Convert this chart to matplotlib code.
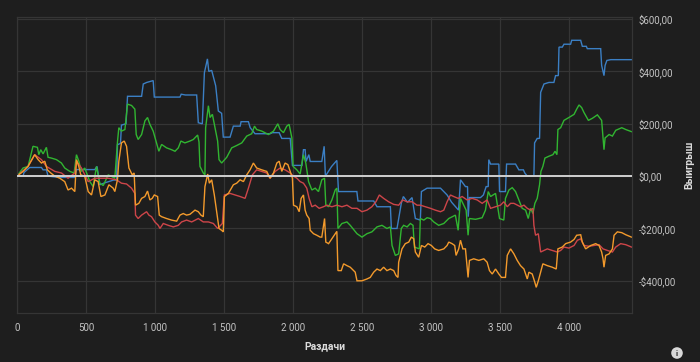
import numpy as np
import matplotlib
matplotlib.use("Agg")
import matplotlib.pyplot as plt
from matplotlib.ticker import FuncFormatter

# Кривые выигрыша: (раздача, $)
blue_pts = [(0, 0), (44, 0), (51, 14), (92, 33), (177, 33), (189, 24), (213, 24), (225, 0), (300, -5), (419, -5),
            (431, 25), (564, 25), (580, 37), (600, -33), (640, -25), (700, -15), (722, -15), (728, 120), (750, 125),
            (757, 195), (790, 200), (801, 305), (903, 305), (915, 352), (940, 358), (987, 365), (995, 302), (1181, 302),
            (1190, 313), (1220, 310), (1302, 310), (1314, 204), (1343, 200), (1358, 395), (1380, 448), (1390, 400),
            (1411, 404), (1423, 380), (1440, 345), (1459, 249), (1483, 240), (1495, 149), (1544, 149), (1568, 191),
            (1617, 191), (1624, 208), (1677, 208), (1690, 185), (1725, 162), (1834, 162), (1850, 166), (1900, 166),
            (1919, 144), (1980, 144), (1996, 41), (2065, 41), (2076, 101), (2088, 101), (2095, 56), (2115, 82),
            (2125, 56), (2209, 56), (2226, 114), (2235, 0), (2280, 37), (2318, 60), (2330, -59), (2463, -59),
            (2471, -95), (2585, -95), (2609, -117), (2706, -117), (2713, -200), (2754, -200), (2785, -104),
            (2800, -78), (2830, -100), (2863, -82), (2887, -162), (2923, -168), (2931, -59), (2972, -46), (3069, -46),
            (3117, -72), (3150, -100), (3200, -130), (3214, -14), (3250, -40), (3265, -40), (3270, -155), (3279, -82),
            (3359, -82), (3380, -72), (3400, -40), (3415, -40), (3419, 63), (3432, 46), (3492, 46), (3497, -59),
            (3540, -59), (3548, 46), (3613, 46), (3637, 24), (3670, 24), (3680, 12), (3698, 0), (3746, 0), (3751, 127),
            (3770, 144), (3787, 144), (3795, 320), (3819, 352), (3855, 358), (3891, 358), (3903, 384), (3923, 384),
            (3928, 493), (3952, 493), (3964, 504), (4012, 504), (4020, 519), (4085, 519), (4097, 496), (4126, 496),
            (4133, 487), (4230, 487), (4237, 423), (4254, 384), (4262, 423), (4275, 442), (4303, 445), (4453, 445)]

green_pts = [(0, 0), (44, 31), (80, 37), (116, 114), (148, 110), (158, 82), (172, 101), (189, 85), (213, 110), (225, 72),
             (249, 69), (286, 63), (322, 50), (346, 31), (383, 18), (414, 12), (431, 82), (448, 57), (467, 18), (491, 31),
             (528, -21), (552, -40), (576, 37), (600, -27), (625, -36), (661, 5), (697, -5), (709, -8), (728, 130),
             (738, 185), (757, 172), (782, 178), (801, 275), (830, 270), (854, 256), (864, 159), (878, 140), (903, 159),
             (927, 211), (946, 224), (963, 198), (987, 172), (1011, 127), (1028, 95), (1048, 121), (1084, 108),
             (1120, 101), (1145, 95), (1169, 108), (1188, 134), (1217, 127), (1253, 134), (1278, 140), (1309, 157),
             (1319, 130), (1326, 37), (1350, 12), (1362, 5), (1367, 185), (1387, 269), (1399, 224), (1416, 236),
             (1435, 185), (1454, 134), (1464, 63), (1483, 50), (1520, 72), (1556, 108), (1592, 117), (1629, 127),
             (1665, 153), (1701, 162), (1721, 191), (1737, 178), (1774, 172), (1822, 159), (1859, 172), (1890, 200),
             (1907, 178), (1931, 166), (1955, 191), (1972, 198), (1992, 146), (2001, 37), (2028, 24), (2052, 8),
             (2076, 82), (2093, 50), (2113, -21), (2137, -53), (2161, -46), (2185, -59), (2209, -14), (2229, -8),
             (2238, -111), (2258, -117), (2282, -91), (2306, -53), (2318, -46), (2326, -200), (2355, -181),
             (2391, -175), (2415, -188), (2464, -220), (2500, -233), (2536, -220), (2572, -213), (2609, -194),
             (2645, -188), (2681, -200), (2706, -194), (2718, -265), (2742, -303), (2766, -297), (2785, -200),
             (2802, -188), (2827, -194), (2851, -181), (2870, -188), (2880, -271), (2916, -278), (2923, -162),
             (2948, -168), (2972, -159), (2996, -162), (3020, -175), (3056, -188), (3093, -181), (3129, -162),
             (3177, -149), (3197, -207), (3214, -85), (3238, -111), (3255, -130), (3269, -226), (3279, -162),
             (3323, -165), (3371, -159), (3395, -130), (3415, -59), (3432, -78), (3468, -66), (3497, -162),
             (3528, -168), (3540, -85), (3565, -53), (3589, -44), (3613, -59), (3637, -91), (3661, -123), (3686, -130),
             (3705, -162), (3722, -123), (3739, -143), (3753, -104), (3770, -85), (3787, -33), (3797, 18), (3811, 37),
             (3826, 69), (3855, 76), (3884, 82), (3899, 95), (3913, 82), (3920, 178), (3940, 185), (3964, 213),
             (4000, 224), (4037, 236), (4056, 256), (4073, 272), (4092, 262), (4109, 243), (4141, 213), (4170, 221),
             (4206, 234), (4237, 213), (4247, 144), (4254, 101), (4262, 146), (4291, 159), (4315, 153), (4339, 175),
             (4383, 185), (4412, 178), (4453, 170)]

orange_pts = [(0, 0), (44, 18), (80, 37), (128, 82), (153, 63), (177, 50), (201, 57), (220, 24), (245, 12), (274, 0),
              (310, -8), (346, -21), (370, -53), (395, -46), (419, -59), (431, 63), (448, 37), (462, 5), (491, -1),
              (516, -59), (540, -72), (564, -14), (588, -21), (608, -78), (637, -72), (666, -33), (697, -46),
              (709, -59), (728, -14), (738, 57), (757, 127), (777, 134), (794, 114), (811, 31), (835, 5), (849, 12),
              (859, -111), (883, -104), (903, -85), (927, -78), (946, -57), (963, -91), (980, -85), (995, -72),
              (1019, -78), (1031, -149), (1048, -155), (1084, -162), (1120, -168), (1157, -172), (1181, -149),
              (1205, -143), (1229, -149), (1253, -146), (1290, -130), (1314, -136), (1333, -149), (1350, -155),
              (1362, -40), (1382, 8), (1394, -27), (1411, -14), (1430, -72), (1447, -136), (1464, -200), (1483, -207),
              (1495, -213), (1503, -78), (1532, -66), (1568, -33), (1592, -27), (1617, -14), (1641, -21), (1665, 5),
              (1689, 24), (1713, 50), (1737, 31), (1774, 24), (1810, 18), (1834, -8), (1859, 12), (1883, 50),
              (1900, 57), (1919, 18), (1943, 50), (1963, 44), (1980, 18), (1996, -8), (2004, -111), (2028, -117),
              (2045, -136), (2059, -85), (2076, -72), (2088, -130), (2100, -149), (2117, -162), (2125, -207),
              (2149, -220), (2173, -226), (2197, -233), (2209, -233), (2229, -162), (2238, -252), (2258, -258),
              (2282, -239), (2306, -220), (2318, -211), (2326, -361), (2350, -361), (2367, -335), (2391, -342),
              (2415, -348), (2451, -367), (2464, -400), (2500, -400), (2536, -393), (2560, -387), (2585, -367),
              (2609, -355), (2633, -361), (2657, -348), (2681, -361), (2706, -355), (2730, -361), (2747, -380),
              (2761, -387), (2766, -329), (2790, -278), (2814, -258), (2839, -252), (2858, -233), (2875, -239),
              (2887, -290), (2911, -310), (2931, -265), (2955, -271), (2979, -258), (3003, -265), (3027, -278),
              (3056, -284), (3093, -278), (3117, -265), (3129, -252), (3153, -258), (3172, -265), (3182, -303),
              (3201, -278), (3214, -245), (3231, -278), (3250, -278), (3269, -387), (3279, -322), (3310, -316),
              (3347, -322), (3383, -316), (3407, -329), (3424, -361), (3444, -374), (3468, -355), (3492, -374),
              (3511, -387), (3540, -387), (3553, -303), (3577, -278), (3601, -297), (3625, -322), (3649, -342),
              (3674, -355), (3698, -393), (3710, -367), (3734, -374), (3753, -406), (3763, -425), (3778, -400),
              (3795, -367), (3811, -335), (3843, -342), (3879, -348), (3908, -355), (3920, -278), (3952, -271),
              (3976, -258), (4012, -252), (4037, -242), (4056, -226), (4085, -224), (4097, -252), (4121, -278),
              (4158, -265), (4194, -258), (4218, -265), (4237, -290), (4247, -316), (4254, -348), (4266, -303),
              (4291, -297), (4315, -278), (4327, -226), (4351, -213), (4383, -216), (4412, -224), (4453, -233)]

red_pts = [(0, 0), (80, 37), (128, 82), (177, 63), (213, 37), (274, 18), (322, 12), (370, -8), (419, 12), (431, 57),
           (467, 31), (516, -21), (564, -8), (612, -8), (661, -8), (721, -14), (757, -27), (794, -30), (830, -46),
           (854, -66), (859, -149), (878, -162), (903, -149), (939, -136), (956, -149), (975, -155), (999, -175),
           (1024, -188), (1036, -200), (1060, -181), (1096, -188), (1133, -194), (1169, -188), (1193, -175),
           (1229, -168), (1266, -175), (1314, -162), (1350, -175), (1387, -175), (1423, -181), (1454, -200),
           (1488, -181), (1503, -72), (1544, -66), (1580, -72), (1617, -78), (1653, -85), (1677, -46), (1706, 5),
           (1737, 24), (1774, 18), (1810, 12), (1834, -8), (1871, 18), (1907, 31), (1943, 24), (1980, 12), (2004, 0),
           (2028, -8), (2052, -21), (2076, -27), (2100, -46), (2117, -85), (2137, -117), (2161, -111), (2190, -123),
           (2221, -117), (2246, -111), (2282, -117), (2318, -111), (2355, -117), (2391, -111), (2427, -123),
           (2464, -123), (2500, -136), (2536, -130), (2572, -117), (2601, -98), (2626, -72), (2657, -85), (2693, -98),
           (2730, -108), (2766, -111), (2795, -91), (2827, -98), (2863, -98), (2899, -111), (2923, -111),
           (2960, -117), (2996, -123), (3032, -130), (3069, -136), (3093, -130), (3117, -98), (3141, -72),
           (3165, -78), (3197, -85), (3226, -78), (3262, -91), (3298, -85), (3335, -91), (3371, -104), (3407, -91),
           (3432, -123), (3468, -117), (3504, -111), (3528, -98), (3553, -117), (3577, -104), (3601, -104),
           (3649, -117), (3674, -111), (3698, -123), (3722, -130), (3739, -123), (3746, -188), (3758, -226),
           (3778, -220), (3795, -290), (3819, -284), (3843, -278), (3879, -284), (3915, -290), (3940, -284),
           (3964, -271), (4000, -275), (4037, -265), (4061, -245), (4085, -240), (4109, -265), (4146, -268),
           (4182, -265), (4218, -262), (4247, -278), (4279, -284), (4315, -290), (4339, -271), (4375, -258),
           (4412, -262), (4453, -271)]

x_ticks = [0, 500, 1000, 1500, 2000, 2500, 3000, 3500, 4000]
y_ticks = [-400, -200, 0, 200, 400, 600]

bg = "#1e1e1e"
grid_c = "#353535"
txt_c = "#c4c4c4"

plt.rcParams["font.family"] = ["Roboto", "DejaVu Sans"]

fig = plt.figure(figsize=(7, 3.62), dpi=100, facecolor=bg)
ax = fig.add_axes([17 / 700, 1 - 313 / 362, 615 / 700, 296 / 362], facecolor=bg)

series = [(blue_pts, "#3b7fc4"), (green_pts, "#31b531"), (red_pts, "#cd4549"), (orange_pts, "#f39a2c")]
for pts, col in series:
    arr = np.array(pts)
    ax.plot(arr[:, 0], arr[:, 1], color=col, lw=1.0, solid_joinstyle="miter")

ax.axhline(0, color="#d0d0d0", lw=1.4, zorder=5)

ax.set_xlim(0, 4457)
ax.set_ylim(-523, 608)
ax.set_xticks(x_ticks)
ax.set_yticks(y_ticks)
ax.xaxis.set_major_formatter(FuncFormatter(lambda v, p: f"{int(v):,}".replace(",", " ")))


def money(v, p):
    s = f"${abs(v):,.2f}".replace(",", " ").replace(".", ",").replace(" ", "")
    return ("-" if v < 0 else "") + s


ax.yaxis.set_major_formatter(FuncFormatter(money))
ax.yaxis.tick_right()
ax.yaxis.set_label_position("right")
ax.tick_params(axis="both", length=0, colors=txt_c, labelsize=7)
ax.tick_params(axis="x", pad=7)
ax.tick_params(axis="y", pad=5)
ax.grid(True, color=grid_c, lw=0.9)
for sp in ax.spines.values():
    sp.set_color(grid_c)
    sp.set_linewidth(0.9)

ax.set_xlabel("Раздачи", color="#dcdcdc", fontsize=7.5, fontweight="bold", labelpad=6)
ax.set_ylabel("Выигрыш", color="#dcdcdc", fontsize=7.5, fontweight="bold", labelpad=6)

fig.text(677 / 700, 1 - 353 / 362, "i", ha="center", va="center", fontsize=5.5, fontweight="bold",
         color=bg, bbox=dict(boxstyle="circle,pad=0.3", fc="#d8d8d8", ec="none"))

fig.savefig("out.png", dpi=100, facecolor=bg)
